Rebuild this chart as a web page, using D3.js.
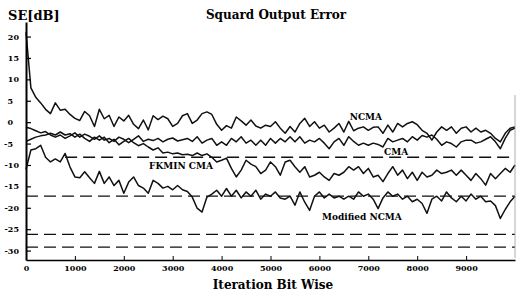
<!DOCTYPE html>
<html>
<head>
<meta charset="utf-8">
<script src="https://cdn.jsdelivr.net/npm/d3@7"></script>
<style>
  html, body { margin: 0; padding: 0; background: #fff; }
  svg { display: block; }
  .axis text { font-family: 'DejaVu Serif', serif; font-weight: bold; font-size: 8px; fill: #000; }
  .axis path, .axis line { stroke: #000; }
</style>
</head>
<body>
<svg id="chart"></svg>
<script>
/* Squard Output Error — SE[dB] vs iteration */

// ── DATA ──────────────────────────────────────────────────────────────────────

const iterStep = 100;   // one value every 100 iterations, 0 .. 10000

const ncma = [
  21, 8, 5.8, 4.5, 3, 2, 4.5, 2.8, 3, 1.8,
  0.9, 0.4, 2.5, 1.5, -1, 3, 0.8, 1.6, -1, 1.2,
  0.3, 1.6, -0.5, -1.5, 0.5, -1.8, 1.5, 0.6, 1.4, 0.8,
  -1, -0.3, 1.5, 2, -0.3, 0.5, 2, 2.4, 1.8, -0.5,
  -1.9, -0.8, -1.4, 1.2, 0.3, -0.7, 0.5, -0.9, -1.4, -0.7,
  -1, 0.1, -1.4, -2.6, -1, -2.3, -0.3, 0.9, -1, 0.1,
  -1.4, -0.7, -2.3, -1.4, -0.3, -2.3, 0.2, -2, -1.4, -1.1,
  -1.9, -1.2, -1.1, -2.6, -0.7, -2.3, -0.3, -1.1, -0.3, 0.1,
  -0.6, -1.9, -2.6, -4.2, -2.3, -1.1, -1.9, -1.1, -2.6, -1.4,
  -1.1, -2.3, -1.4, -2.3, -1.9, -2.6, -3.8, -4.6, -2.6, -1.4,
  -1.1
];

const cma = [
  -1.2, -1.5, -2, -2.5, -2.2, -3, -3.5, -3, -3.8, -3.2,
  -2.5, -3.5, -2.8, -3.3, -4, -3.2, -4.2, -3.8, -4.5, -3.5,
  -4, -4.8, -4, -3.2, -4.5, -4, -4.3, -3.8, -4.6, -4,
  -3.7, -4.4, -4.1, -3.8, -4.5, -3.4, -4.9, -4.2, -3.8, -5.4,
  -4.6, -5.4, -3.8, -4.6, -3.4, -4.9, -4.2, -5.4, -4.2, -5.4,
  -3.8, -4.9, -3.8, -4.6, -3.4, -4.6, -3.4, -4.9, -4.2, -4.6,
  -3.8, -4.9, -6.2, -4.6, -3.8, -5.4, -3.4, -4.5, -5.4, -4.9,
  -5.4, -4.9, -5.2, -5.8, -3.8, -4.6, -4.2, -3.8, -4.6, -3.4,
  -4.2, -3.1, -3.5, -3, -4, -5.4, -4.6, -5, -5.8, -4.6,
  -4.2, -4.2, -4.9, -4.6, -4, -3.4, -4.6, -6.2, -3.8, -1.9,
  -1.4
];

const fkminCma = [
  -4.5, -4, -3.5, -3.2, -3, -2.6, -3, -2.3, -3, -2.7,
  -3.5, -2.8, -3.8, -4.5, -3.5, -4.2, -3.5, -4.8, -4, -5.3,
  -4.5, -3.8, -4.8, -5.5, -5, -5.8, -6.5, -6, -7.2, -7,
  -7.4, -7.2, -7.6, -7.5, -7.8, -7.2, -7.8, -7.4, -8.2, -9.3,
  -8.9, -8.4, -10.8, -12.8, -11.2, -8.9, -9.8, -10.4, -12, -11.2,
  -9.3, -10.4, -12.4, -9.3, -8.9, -10.4, -11.7, -10.4, -12.8, -12.4,
  -11.7, -12.8, -13.6, -12, -12.4, -11.7, -10.4, -11.2, -10.4, -12,
  -10.8, -12.8, -12.4, -13.9, -12, -10.4, -12.4, -11.2, -13.2, -11.7,
  -13.6, -11.7, -12.8, -12.4, -11.2, -12, -11.7, -11.2, -12.4, -11.2,
  -12.4, -13.6, -12, -13.2, -14.7, -12, -13.2, -12, -10.8, -11.7,
  -10
];

const modifiedNcma = [
  -11, -6.5, -6.2, -5.4, -8.2, -9.3, -8.6, -9.3, -7.3, -10.5,
  -12.8, -13, -11.6, -13, -14.3, -11.5, -14.3, -12.8, -14.8, -13.6,
  -16.6, -14, -12.8, -14.8, -15.4, -16.6, -13.6, -14.3, -15.4, -15,
  -15.8, -14.8, -15.8, -16.2, -17.5, -20.1, -21, -17.5, -16.8, -15.9,
  -17.3, -15.5, -17.3, -15.9, -17.7, -16.3, -17.3, -15.9, -18, -16.8,
  -17.3, -16.3, -17.7, -18, -17.3, -19.4, -16.3, -18.7, -20.6, -17.3,
  -16.3, -17.7, -16.8, -17.7, -17.3, -18, -17.3, -18, -16.3, -17.3,
  -16.8, -18, -20.2, -17.7, -16.3, -17.3, -16.8, -18, -17.3, -18.6,
  -18, -19, -21.3, -18, -17.3, -18.4, -16.3, -17.7, -18.6, -17.3,
  -18.4, -16.8, -18, -17.3, -18.6, -18.4, -19.5, -22.5, -20.4, -18.6,
  -17.3
];

// dashed reference levels (dB) and the iteration each one starts at
const levels     = [-8.2, -17.3, -26.2, -29.2];
const levelStart = [800, 0, 0, 0];

const xTicks = [0, 1000, 2000, 3000, 4000, 5000, 6000, 7000, 8000, 9000];
const yTicks = [20, 15, 10, 5, 0, -5, -10, -15, -20, -25, -30];

const seriesNames = ['NCMA', 'CMA', 'FKMIN CMA', 'Modified NCMA'];
const labelIter   = [6950, 7570, 3170, 6870];
const labelDb     = [1.2, -7, -10.3, -22.2];

// ── SETUP ─────────────────────────────────────────────────────────────────────

const W = 516, H = 292;
const svg = d3.select('#chart').attr('width', W).attr('height', H);

const x = d3.scaleLinear().domain([0, 10000]).range([26, 515]);
const y = d3.scaleLinear().domain([-32.2, 23.4]).range([260, 22]);

const serif = "'DejaVu Serif', serif";

// ── REFERENCE LEVELS ──────────────────────────────────────────────────────────

svg.append('g').selectAll('line')
  .data(levels)
  .join('line')
  .attr('x1', (d, i) => x(levelStart[i]))
  .attr('x2', x(10000))
  .attr('y1', d => y(d))
  .attr('y2', d => y(d))
  .attr('stroke', '#111')
  .attr('stroke-width', 1.3)
  .attr('stroke-dasharray', '12,6');

// ── CURVES ────────────────────────────────────────────────────────────────────

const line = d3.line()
  .x((d, i) => x(i * iterStep))
  .y(d => y(d));

svg.append('g').selectAll('path')
  .data([ncma, cma, fkminCma, modifiedNcma])
  .join('path')
  .attr('d', line)
  .attr('fill', 'none')
  .attr('stroke', '#111')
  .attr('stroke-width', 1.5)
  .attr('stroke-linejoin', 'round');

// ── AXES ──────────────────────────────────────────────────────────────────────

const xAxis = svg.append('g')
  .attr('class', 'axis')
  .attr('transform', `translate(0,${y.range()[0]})`)
  .call(d3.axisBottom(x)
    .tickValues(xTicks)
    .tickSizeInner(-4)
    .tickSizeOuter(0)
    .tickPadding(5)
    .tickFormat(d => String(d)));
xAxis.select('.domain').attr('stroke-width', 1.4);

const yAxis = svg.append('g')
  .attr('class', 'axis')
  .attr('transform', `translate(${x.range()[0]},0)`)
  .call(d3.axisLeft(y)
    .tickValues(yTicks)
    .tickSizeInner(-5)
    .tickSizeOuter(0)
    .tickFormat(d => String(d)));
yAxis.select('.domain').attr('stroke-width', 2);
yAxis.selectAll('.tick line').attr('stroke-width', 1.2);
yAxis.selectAll('text').attr('x', d => Math.abs(d) < 10 ? -13 : -7);

// faint right border from the scan
svg.append('line')
  .attr('x1', 515).attr('x2', 515)
  .attr('y1', 95).attr('y2', 258)
  .attr('stroke', '#999')
  .attr('stroke-width', 0.8);

// ── TEXT ──────────────────────────────────────────────────────────────────────

svg.append('g').selectAll('text')
  .data(seriesNames)
  .join('text')
  .attr('x', (d, i) => x(labelIter[i]))
  .attr('y', (d, i) => y(labelDb[i]))
  .attr('text-anchor', 'middle')
  .attr('dominant-baseline', 'central')
  .attr('font-family', serif)
  .attr('font-weight', 'bold')
  .attr('font-size', '9px')
  .attr('fill', '#000')
  .text(d => d);

svg.append('text')
  .attr('x', 276).attr('y', 19)
  .attr('text-anchor', 'middle')
  .attr('font-family', serif)
  .attr('font-weight', 'bold')
  .attr('font-size', '12px')
  .text('Squard Output Error');

svg.append('text')
  .attr('x', 8).attr('y', 20)
  .attr('font-family', serif)
  .attr('font-weight', 'bold')
  .attr('font-size', '13px')
  .text('SE[dB]');

svg.append('text')
  .attr('x', 273).attr('y', 289)
  .attr('text-anchor', 'middle')
  .attr('font-family', serif)
  .attr('font-weight', 'bold')
  .attr('font-size', '12px')
  .text('Iteration Bit Wise');
</script>
</body>
</html>
